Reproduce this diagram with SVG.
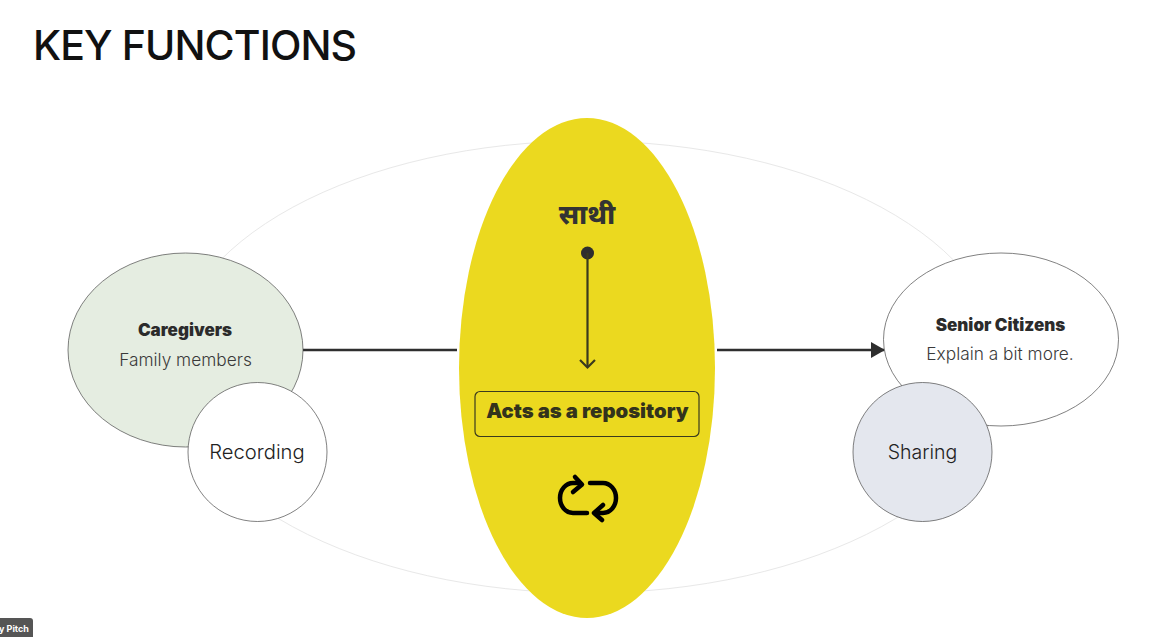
<svg xmlns="http://www.w3.org/2000/svg" width="1152" height="637" viewBox="0 0 1152 637">
<style>
text{font-family:"Inter","Noto Sans","Noto Sans CJK SC",sans-serif;text-anchor:middle;fill:#2b2b2b}
.b{font-weight:900;font-size:17px}
.r{font-weight:300;font-size:17.300px;fill:#3a3a3a}
.l{font-weight:300;font-size:20.200px;fill:#222}
.n{stroke:#4a4a4a;stroke-width:.7}
.c{stroke:#2e2e2e;stroke-width:2.600;fill:none}
</style>
<defs>
<marker id="tri" markerUnits="userSpaceOnUse" markerWidth="14" markerHeight="16" refX="13" refY="8" orient="auto"><path d="M0 0L14 8L0 16Z" fill="#2e2e2e"/></marker>
</defs>
<rect width="1152" height="637" fill="#fff"/>
<text id="title" x="33" y="60" style="text-anchor:start;font-size:41px;font-weight:450;letter-spacing:-.9px;fill:#111">KEY FUNCTIONS</text>
<ellipse id="orbit" cx="587" cy="367" rx="416" ry="226" fill="none" stroke="#e8e8e8" stroke-width="1"/>
<g id="connectors">
<path class="c" d="M303 350H457"/>
<path class="c" d="M717 350H884" marker-end="url(#tri)"/>
</g>
<g id="sathi-core">
<ellipse cx="587" cy="368" rx="128" ry="250" fill="#ebd91f"/>
<text x="587" y="224" style="font-size:27px;font-weight:800;fill:#333">साथी</text>
<circle cx="587.500" cy="253" r="6.500" fill="#2e2e2e"/>
<path d="M587.500 253V367" stroke="#3a3a1e" stroke-width="2.200" fill="none"/>
<path d="M580 360L587.500 367.500L595 360" stroke="#3a3a1e" stroke-width="2.200" fill="none"/>
</g>
<g id="repository">
<rect x="475" y="391.500" width="224" height="45" rx="5" fill="none" stroke="#3a3a1e" stroke-width="1.200"/>
<text x="587.500" y="417.500" style="font-size:20.300px;font-weight:900;fill:#33331c">Acts as a repository</text>
</g>
<g id="cycle-icon" fill="none" stroke="#000" stroke-width="4.500" stroke-linecap="round" stroke-linejoin="round">
<path d="M587 513H573A13 15 0 0 1 573 483H580"/>
<path d="M590 483H603A13 15 0 0 1 603 513H595"/>
<path d="M575 477L582 484.500L573 492"/>
<path d="M603 505L594 513L602 520"/>
</g>
<g id="caregivers">
<ellipse class="n" cx="185.500" cy="350" rx="117.500" ry="97" fill="#e5ede1"/>
<text class="b" x="185" y="336">Caregivers</text>
<text class="r" x="185.500" y="365.500">Family members</text>
</g>
<g id="recording">
<circle class="n" cx="257.500" cy="452" r="69.500" fill="#fff"/>
<text class="l" x="257" y="459">Recording</text>
</g>
<g id="senior-citizens">
<ellipse class="n" cx="1001" cy="339.500" rx="117.500" ry="86.500" fill="#fff"/>
<text class="b" x="1000.500" y="331">Senior Citizens</text>
<text class="r" x="1000" y="359.500">Explain a bit more.</text>
</g>
<g id="sharing">
<circle class="n" cx="922.500" cy="452" r="69.500" fill="#e4e7ee"/>
<text class="l" x="922.500" y="459" style="font-size:19.500px">Sharing</text>
</g>
<g id="badge">
<rect x="-10" y="618" width="43" height="26" rx="3" fill="#555"/>
<text x="14" y="632" style="font-size:9px;font-weight:700;fill:#fff">y Pitch</text>
</g>
</svg>
